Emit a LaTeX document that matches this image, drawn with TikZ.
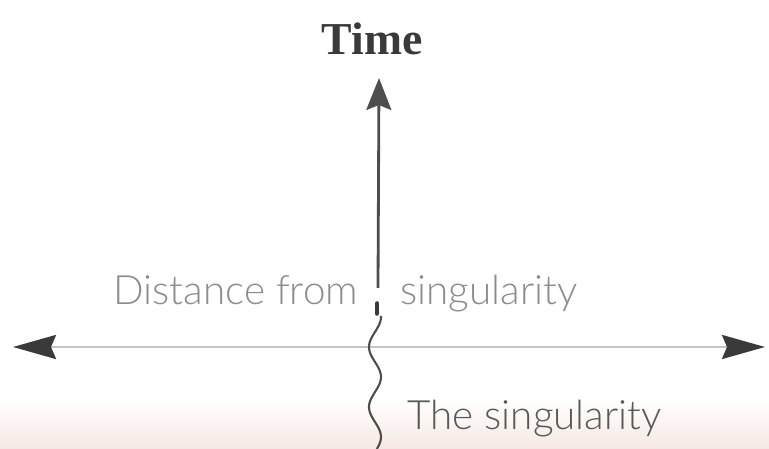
\documentclass[tikz,border=0pt]{standalone}
\usepackage{fontspec}
\usepackage{xcolor}
\usetikzlibrary{arrows.meta}
\newfontfamily\labelfont{Lato Light}
\newfontfamily\titlefont{Liberation Serif}
\definecolor{axisgray}{HTML}{C4C4C4}
\definecolor{tipgray}{HTML}{3A3A3A}
\definecolor{textgray}{HTML}{8C8C8C}
\definecolor{peach}{HTML}{F6E8E3}

\begin{document}
\begin{tikzpicture}[x=0.02cm, y=-0.02cm,
    label text/.style={font=\labelfont\fontsize{23}{26}\selectfont, text=textgray, inner sep=0pt},
    bigtip/.tip={Stealth[length=0.86cm, width=0.48cm, inset=0.1cm, color=tipgray]}]
        \useasboundingbox (0,0) rectangle (769,449);
        % Background band
        \shade[top color=white, bottom color=peach] (0,400) rectangle (769,449);

        % Define nodes
        \node[font=\titlefont\bfseries\fontsize{26}{30}\selectfont, text=tipgray, anchor=base, inner sep=0pt] (time) at (372,55) {Time};
        \node[label text, anchor=base west] (dist) at (113,305) {Distance from};
        \node[label text, anchor=base west] (sing) at (400,305) {singularity};
        \node[label text, anchor=base west, text=black!65] (thesing) at (407,430) {The singularity};

        % Axis end points
        \coordinate (left) at (13,347);
        \coordinate (right) at (765,347);
        \coordinate (base) at (378,288);
        \coordinate (top) at (379,78);

        % Distance axis
        \draw[axisgray, line width=1.5pt, bigtip-bigtip] (left) -- (right);

        % Time axis
        \draw[tipgray!90, line width=1.6pt, -{Stealth[length=0.64cm, width=0.5cm, inset=0.1cm]}] (base) -- (top);
        \draw[tipgray, line width=2pt, line cap=round] (377,303) -- (377,314);

        % The singularity
        \draw[tipgray!90, line width=1.2pt, smooth, samples=60, domain=316:449]
            plot ({375-6*cos((\x-347)*6)}, \x);
    \end{tikzpicture}
\end{document}
